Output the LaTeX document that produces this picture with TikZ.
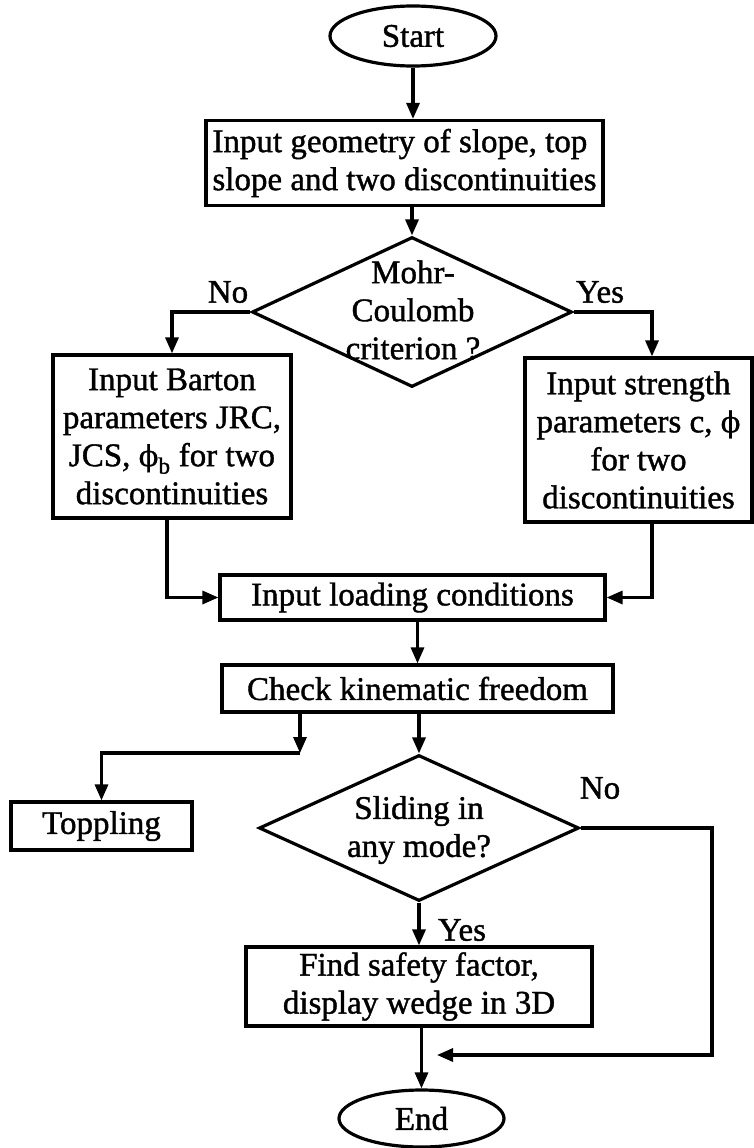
\documentclass[tikz,border=0pt]{standalone}
\usepackage{fontspec}
\setmainfont{Liberation Serif}[FakeBold=1.2]
\newfontfamily\grk{DejaVu Serif}[FakeBold=0.8]
\usetikzlibrary{shapes.geometric,arrows.meta}
\newcommand{\myphi}{{\grk\fontsize{29}{38}\selectfont ϕ}}
\begin{document}
\begin{tikzpicture}[x=1pt,y=-1pt,
  line width=3.2pt,
  every node/.style={font=\fontsize{33}{38}\selectfont, inner sep=0pt},
  box/.style={draw,rectangle,align=center},
  term/.style={draw,ellipse},
  dia/.style={draw,diamond},
  arr/.style={-{Triangle[length=16pt,width=13pt]}}]
\path[fill=white,use as bounding box] (0,0) rectangle (754,1148);
% nodes
\node[term, minimum width=166pt, minimum height=60pt] (start) at (413,36) {Start};
\node[box, align=left, minimum width=397pt, minimum height=85pt] (geo) at (404.5,163) {Input geometry of slope, top\\slope and two discontinuities};
\node[dia, minimum width=320pt, minimum height=150pt] (mc) at (412,312) {};
\node[align=center] (mct) at (413,310) {Mohr-\\Coulomb\\criterion ?};
\node (no1) at (228,292) {No};
\node (yes1) at (600,292) {Yes};
\node[box, minimum width=238pt, minimum height=163pt] (bart) at (172,436.5) {Input Barton\\parameters JRC,\\JCS, \myphi\textsubscript{b} for two\\discontinuities};
\node[box, minimum width=227pt, minimum height=164pt] (str) at (638.5,440) {Input strength\\parameters c, \myphi\\for two\\discontinuities};
\node[box, minimum width=385pt, minimum height=45pt] (load) at (412.5,597.5) {Input loading conditions};
\node[box, minimum width=391pt, minimum height=47pt] (kin) at (417.5,688.5) {Check kinematic freedom};
\node[box, minimum width=181pt, minimum height=48pt] (top) at (101.5,826) {Toppling};
\node[dia, minimum width=320pt, minimum height=146pt] (sd) at (419,828) {};
\node[align=center] (sdt) at (419,830) {Sliding in\\any mode?};
\node (no2) at (600,788) {No};
\node (yes2) at (462,930) {Yes};
\node[box, minimum width=346pt, minimum height=79pt] (find) at (419,986.5) {Find safety factor,\\display wedge in 3D};
\node[term, minimum width=165pt, minimum height=57pt] (endn) at (421.5,1118.5) {End};
% helper coordinates
\coordinate (sx) at (652,0);
\coordinate (lx) at (167,0);
\coordinate (tb) at (300,753);
\coordinate (rx) at (712,1055);
\coordinate (rt) at (437,1055);
% connectors
\draw[arr] (start.south) -- (start.south |- geo.north);
\draw[arr] (geo.south -| mc.north) -- (mc.north);
\draw[arr] (mc.west) -| (bart.north);
\draw[arr] (mc.east) -- (mc.east -| sx) -- (sx |- str.north);
\draw[arr] (bart.south -| lx) |- (load.west);
\draw[arr] (str.south -| sx) |- (load.east);
\draw[arr] (load.south -| kin.north) -- (kin.north);
\draw[arr] (kin.south -| tb) -- (tb);
\draw[arr] (tb) -| (top.north);
\draw[arr] (kin.south -| sd.north) -- (sd.north);
\draw[arr] (sd.south) -- (sd.south |- find.north);
\draw[arr] (find.south -| endn.north) -- (endn.north);
\draw[arr] (sd.east) -| (rx) -- (rt);
\end{tikzpicture}
\end{document}
